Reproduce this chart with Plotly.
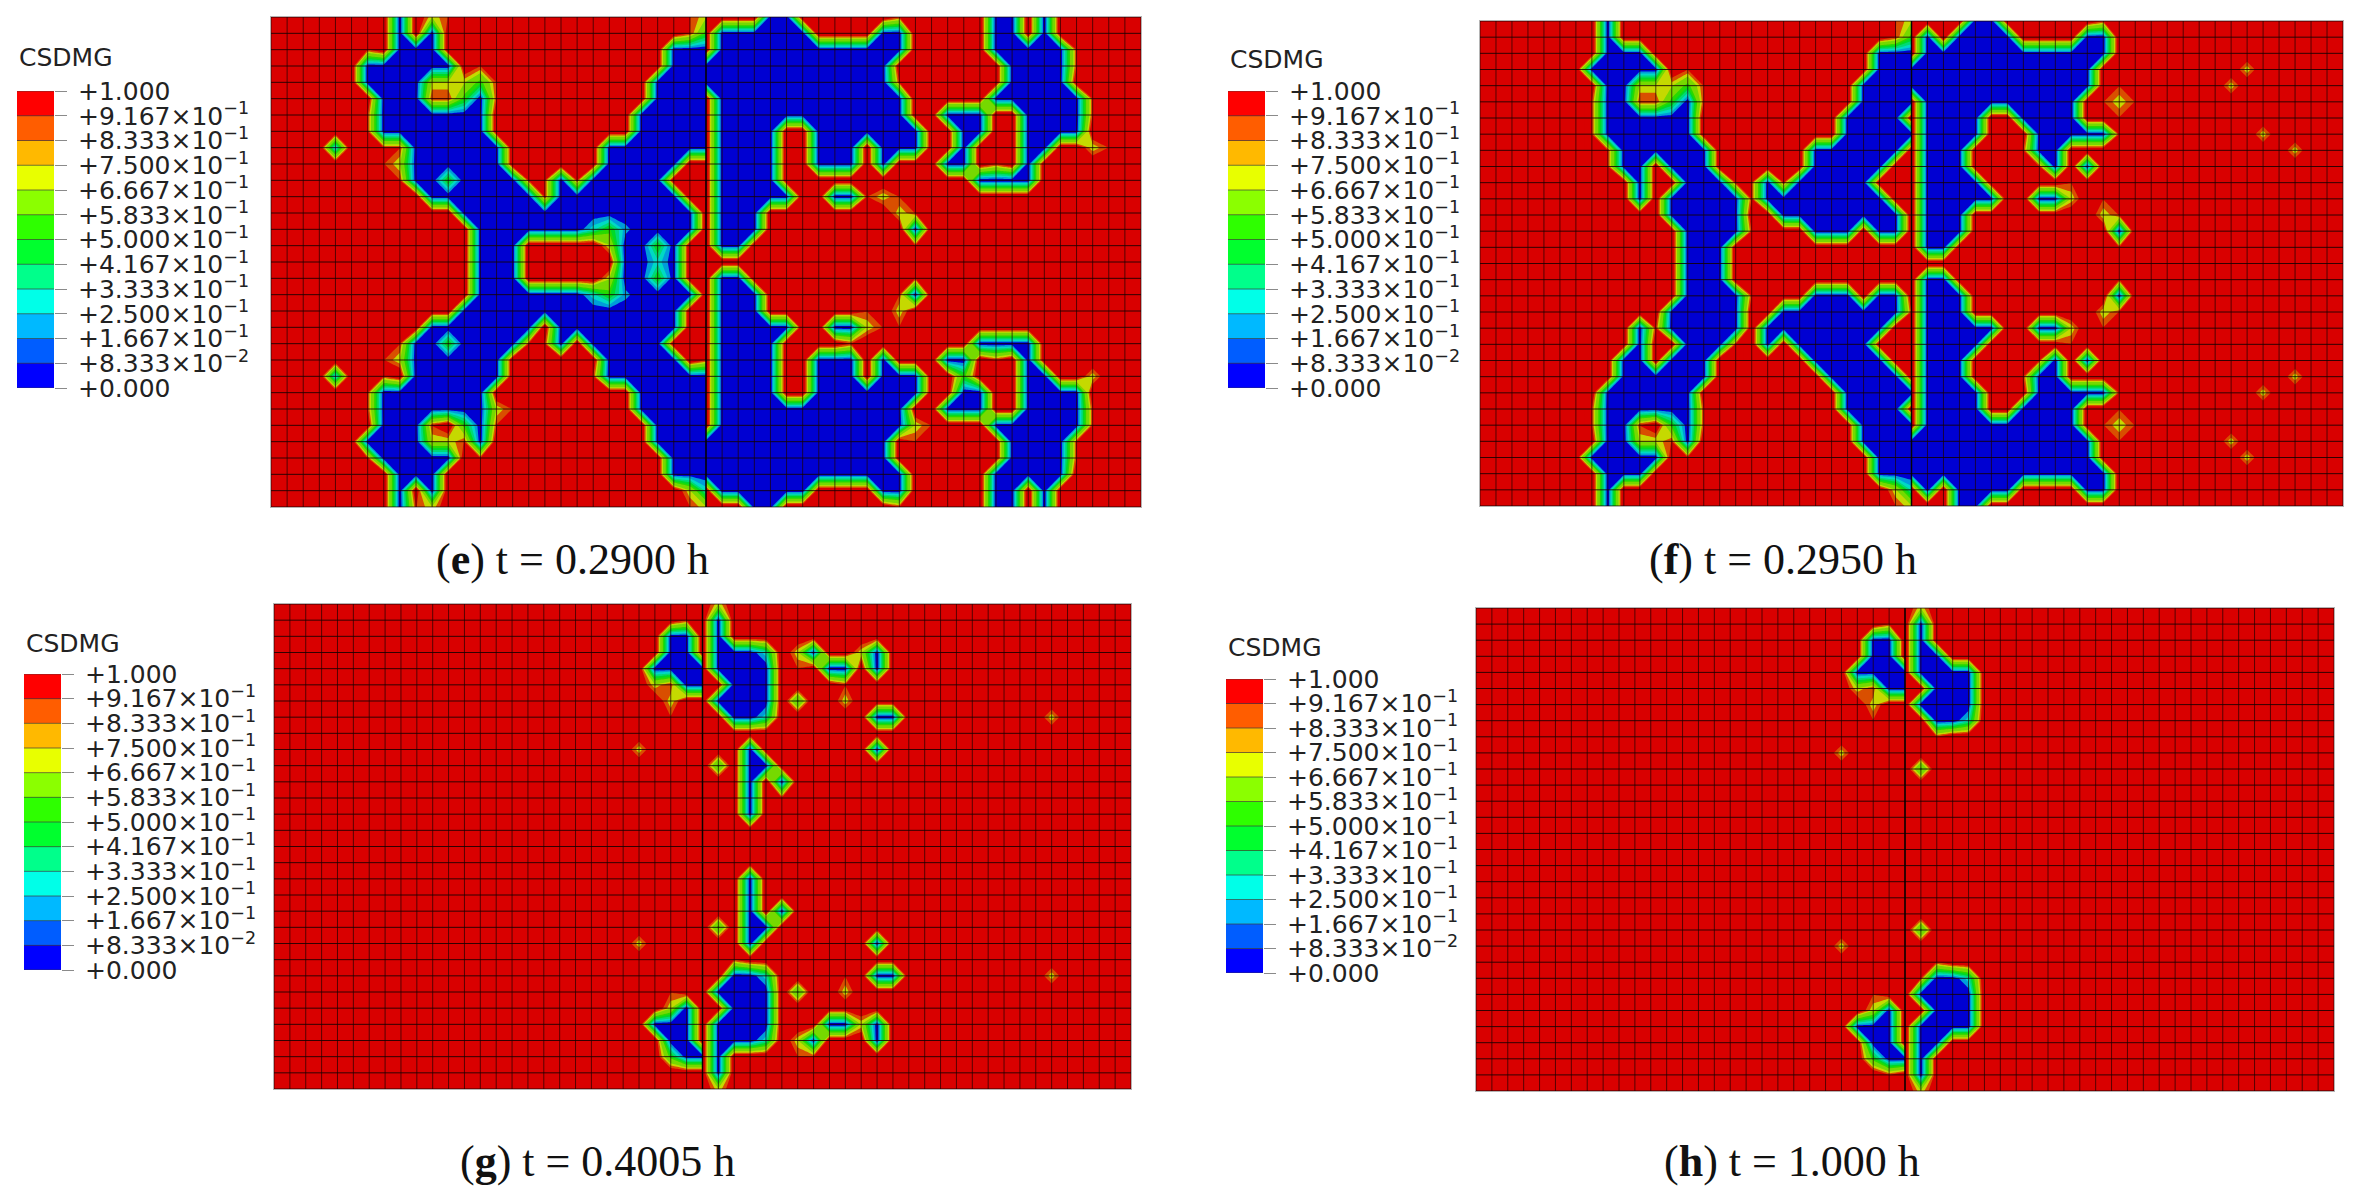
import plotly.graph_objects as go

WIDTH, HEIGHT = 2359, 1204

# Damage contour levels (12 equal bands between 0 and 1)
LEVEL_TICKS = [0, 1, 2, 3, 4, 5, 6, 7, 8, 9, 10, 11, 12]
LEVEL_LABELS = [
    "+0.000",
    "+8.333×10<sup>−2</sup>",
    "+1.667×10<sup>−1</sup>",
    "+2.500×10<sup>−1</sup>",
    "+3.333×10<sup>−1</sup>",
    "+4.167×10<sup>−1</sup>",
    "+5.000×10<sup>−1</sup>",
    "+5.833×10<sup>−1</sup>",
    "+6.667×10<sup>−1</sup>",
    "+7.500×10<sup>−1</sup>",
    "+8.333×10<sup>−1</sup>",
    "+9.167×10<sup>−1</sup>",
    "+1.000",
]
KEY_COLORS = ["#0000ff", "#005dff", "#00b9ff", "#00ffe8", "#00ff8b", "#00ff2e",
              "#2eff00", "#8bff00", "#e8ff00", "#ffb900", "#ff5d00", "#ff0000"]
LIT_COLORS = ["#0000d2", "#004fd9", "#009dd9", "#00d9c5", "#00d976", "#00d927",
              "#27d900", "#76d900", "#c5d900", "#d99d00", "#d94f00", "#d90000"]

# Nodal stiffness-degradation codes
NODE_VALUES = {".": 1.0, "#": 0.0, "o": 0.84, "y": 0.68, "g": 0.44, "c": 0.22, "b": 0.12}

# Nodes left of the notch line (columns 0-27), one string per mesh row
E_LEFT = [
    "........#.yo..............oy",
    "........#.#...............og",
    "......o.###..............###",
    "......######.o...........###",
    "......####yyygo.........####",
    ".....o.###oog#o.........####",
    ".....oo#######.o.......#####",
    "......o#######.........#####",
    "....b..oo######....o.#######",
    ".......oy######.o..o.#####..",
    "........o##g####oo#o#####..o",
    "..........#######o########.o",
    "............###############.",
    ".............#######cgb####.",
    ".............###.....y##g#..",
    ".............###......##c#..",
    ".............###.....y##g#..",
    ".............#######cgb####.",
    "............##############.o",
    "..........#######.########..",
    "........o##g####oo#.#####...",
    ".......oy######.o..o.#####.o",
    "....b..o.######....oo#######",
    ".....oo#######.........#####",
    ".....oo#######yo.......#####",
    ".......###o.g#o.........####",
    "......####yyo#..........####",
    "......o#####.o...........###",
    "........###..............###",
    "........#.#...............yc",
    "........#oy...............oy",
]
# Nodes right of the notch line (columns 27-54)
E_RIGHT = [
    "....##.o....o.....##.#.o....",
    ".######....##.....##.#.o....",
    ".############.....#####o....",
    "############.......####o....",
    "############o......####.o...",
    ".############.o...######o...",
    ".############..###..####o...",
    ".####..#######..##..####....",
    ".####..###.###..#...##..yo..",
    ".####..###.#...##.o.#.......",
    ".####.....o......####.......",
    ".#####..##oyo...............",
    ".###........yo..............",
    ".###.........#..............",
    ".##..........o..............",
    "............................",
    ".##..........o..............",
    ".###........o#..............",
    ".###......o.y...............",
    ".#####..##yoo...............",
    ".####....o.......####.......",
    ".####..###.#...##.o.#.......",
    ".####..###.###..g...##..y...",
    ".####..#######..##..####....",
    ".############..###..####o...",
    ".############yo...######o...",
    "############.o.....####o....",
    "############.......####o....",
    "#############.....#####.....",
    ".######....##.....##.#.o....",
    "...##.......oo....##.#.o....",
]

F_LEFT = [
    "........#.................oy",
    "........#.................og",
    "........###..............###",
    ".......#####.o...........###",
    "........##yyygo.........####",
    ".......o##oog#o.........####",
    ".......o######.o.......####.",
    ".......o######.........#####",
    ".......oo######....o.######.",
    "........o##.###.o..o.#####..",
    "..........#..###oo#o#####...",
    "..........#.#####o########..",
    "............#####..########.",
    ".............####o...###.##.",
    ".............###............",
    ".............###............",
    ".............###............",
    ".............####o...###.##.",
    "............#####..########o",
    "..........#o#####.########..",
    "..........#..###o.#.#####...",
    ".........##.###.o..o.#####..",
    ".......o.######....o..#####.",
    "........######.........#####",
    ".......o######oo.......####.",
    ".......o##o.g#o.........####",
    "........##yyo#..........####",
    ".......#####.o...........###",
    "........###..............###",
    "........#.................yc",
    "........#.................oy",
]
F_RIGHT = [
    "....##......o",
    ".#.####....##",
    ".############",
    "############.........y......",
    "############.o......y.o.....",
    ".##########.oyo",
    ".####..####..o",
    ".####...#####o........y.....",
    ".###...o##..............y...",
    ".###....o#.#",
    ".####.....o",
    ".#####..##y.o",
    ".###........yo",
    ".###.........#",
    ".##..........o",
    "",
    ".##..........o",
    ".###.........#",
    ".###........yo",
    ".#####..##y.o",
    ".####.....o",
    ".###....o#.#",
    ".###...o##..............y...",
    ".####...#####o........y.....",
    ".####..####..o",
    ".##########.oyo",
    "############.o......y.o.....",
    "############.........y......",
    "#############",
    ".#.####....##",
    "...##",
]

G_LEFT = [
    "",
    "..........................o.",
    ".........................##.",
    ".........................##.",
    "........................####",
    ".......o................yo##",
    ".........................y..",
    ".........................o..",
    ".......o",
    ".......................y",
    "........................o",
    "", "", "", "", "", "", "", "", "",
    "........................o",
    ".......................y",
    ".......o",
    "",
    ".......o.................o..",
    ".........................y#.",
    "........................###.",
    ".........................##.",
    ".........................g##",
    "", "",
]
G_RIGHT = [
    ".y",
    ".#",
    ".#",
    ".###c.y#..y#",
    ".####.o.##.#..........o",
    "..###....o",
    ".####.g..y",
    "..##c......##.........y",
    ".o",
    "...#.......#",
    ".g.##",
    "...#.#",
    "...#.o",
    "...#",
    "", "", "",
    "...#",
    "...#",
    "...#.#",
    ".g.##",
    "...#.......#",
    "..o",
    "..##c....o.##.........y",
    ".####.g..y",
    "..###",
    ".####...##y#..........o",
    ".###c.y#...#",
    ".#....oo",
    ".#",
    ".y",
]

H_LEFT = [
    "",
    "..........................o.",
    ".........................##.",
    ".........................##.",
    "........................####",
    "........................yo##",
    ".........................y..",
    ".........................o..",
    "",
    ".......................y",
    "........................o",
    "", "", "", "", "", "", "", "", "",
    "........................o",
    ".......................y",
    "", "",
    ".........................o..",
    ".........................y#.",
    "........................###.",
    ".........................##.",
    ".........................g##",
    "..........................o.",
    "",
]
H_RIGHT = [
    ".y",
    ".#",
    ".#",
    ".##",
    ".####",
    "..###",
    ".####",
    "..##c",
    ".oo",
    "",
    ".g",
    "", "", "", "", "", "", "", "", "",
    ".g",
    "",
    "..o",
    ".o##c",
    ".####",
    "..###",
    ".####",
    ".##",
    ".#",
    ".#",
    ".y",
]

CAPTIONS = [("e", "t = 0.2900 h"), ("f", "t = 0.2950 h"),
            ("g", "t = 0.4005 h"), ("h", "t = 1.000 h")]

COLUMNS, ROWS = 54, 30
CRACK = 27


def decode(rows):
    return [[NODE_VALUES[c] for c in r.ljust(CRACK + 1, ".")[:CRACK + 1]] for r in rows]


def band_scale():
    """Stepped colour scale that gives each contour band one flat colour."""
    stops = [[0, LIT_COLORS[0]], [0.02, LIT_COLORS[0]], [0.02, LIT_COLORS[1]]]
    for k in range(1, 11):
        stops += [[k / 11, LIT_COLORS[k]], [k / 11, LIT_COLORS[k + 1]]]
    stops += [[1, LIT_COLORS[11]]]
    return stops


def key_scale():
    n = len(KEY_COLORS)
    stops = []
    for k, c in enumerate(KEY_COLORS):
        stops += [[k / n, c], [(k + 1) / n, c]]
    return stops


PANELS = [
    dict(left=E_LEFT, right=E_RIGHT, box=(271, 1141, 17, 507), key=(17, 54, 91, 388), title=(17, 57), cap=(434, 560)),
    dict(left=F_LEFT, right=F_RIGHT, box=(1480, 2343, 21, 506), key=(1228, 1265, 91, 388), title=(1228, 60), cap=(1647, 560)),
    dict(left=G_LEFT, right=G_RIGHT, box=(274, 1131, 604, 1089), key=(24, 61, 674, 970), title=(24, 644), cap=(458, 1161)),
    dict(left=H_LEFT, right=H_RIGHT, box=(1476, 2334, 608, 1091), key=(1226, 1263, 679, 973), title=(1226, 647), cap=(1662, 1161)),
]

fig = go.Figure()
layout = dict(
    width=WIDTH, height=HEIGHT, autosize=False, showlegend=False,
    margin=dict(l=0, r=0, t=0, b=0, autoexpand=False), paper_bgcolor="white", plot_bgcolor="white",
    annotations=[],
)


def px_x(v):
    return v / WIDTH


def px_y(v):
    return 1 - v / HEIGHT


axis_id = 1
for panel, (letter, when) in zip(PANELS, CAPTIONS):
    # Contour field, split along the notch so nodal values can jump across it
    x0, x1, y0, y1 = panel["box"]
    xa, ya = f"x{axis_id}", f"y{axis_id}"
    layout[f"xaxis{axis_id}"] = dict(
        domain=[px_x(x0), px_x(x1)], range=[0, COLUMNS], anchor=ya, showgrid=False,
        zeroline=False, showticklabels=False, ticks="", showline=True, mirror=True,
        linecolor="#b4b4b4", linewidth=1)
    layout[f"yaxis{axis_id}"] = dict(
        domain=[px_y(y1), px_y(y0)], range=[ROWS, 0], anchor=xa, showgrid=False,
        zeroline=False, showticklabels=False, ticks="", showline=True, mirror=True,
        linecolor="#b4b4b4", linewidth=1)
    for rows, columns in ((panel["left"], list(range(0, CRACK + 1))),
                          (panel["right"], list(range(CRACK, COLUMNS + 1)))):
        fig.add_trace(go.Contour(
            x=columns, y=list(range(ROWS + 1)), z=decode(rows), xaxis=xa, yaxis=ya,
            autocontour=False, contours=dict(start=1 / 12, end=11 / 12 + 1e-6, size=1 / 12,
                                             coloring="fill", showlines=False),
            line=dict(width=0, smoothing=0), colorscale=band_scale(), zmin=0, zmax=1,
            showscale=False, hoverinfo="skip"))

    # Element edges
    hx, hy = [], []
    for j in range(ROWS + 1):
        hx += [0, COLUMNS, None]
        hy += [j, j, None]
    vx, vy = [], []
    for i in range(COLUMNS + 1):
        vx += [i, i, None]
        vy += [0, ROWS, None]
    fig.add_trace(go.Scatter(x=vx, y=vy, xaxis=xa, yaxis=ya, mode="lines", hoverinfo="skip",
                             line=dict(color="rgba(30,0,0,0.7)", width=1)))
    fig.add_trace(go.Scatter(x=hx, y=hy, xaxis=xa, yaxis=ya, mode="lines", hoverinfo="skip",
                             line=dict(color="rgba(20,0,0,0.85)", width=1)))
    fig.add_trace(go.Scatter(x=[CRACK, CRACK], y=[0, ROWS], xaxis=xa, yaxis=ya, mode="lines",
                             hoverinfo="skip", line=dict(color="rgba(0,0,0,0.9)", width=1.5)))
    axis_id += 1

    # Band key beside the field
    kx0, kx1, ky0, ky1 = panel["key"]
    xa, ya = f"x{axis_id}", f"y{axis_id}"
    layout[f"xaxis{axis_id}"] = dict(
        domain=[px_x(kx0), px_x(kx1)], range=[0, 1], anchor=ya, showgrid=False,
        zeroline=False, showticklabels=False, ticks="", showline=False)
    layout[f"yaxis{axis_id}"] = dict(
        domain=[px_y(ky1), px_y(ky0)], range=[0, 12], anchor=xa, side="right", showgrid=False,
        zeroline=False, tickmode="array", tickvals=LEVEL_TICKS, ticktext=LEVEL_LABELS,
        ticks="outside", ticklen=12, tickcolor="#8a8a8a", tickwidth=1, showline=False,
        ticklabelstandoff=6,
        tickfont=dict(family="DejaVu Sans", size=25, color="#222222"))
    fig.add_trace(go.Heatmap(
        x=[0.5], y=[k + 0.5 for k in range(12)], z=[[k] for k in range(12)], xaxis=xa, yaxis=ya,
        colorscale=key_scale(), zmin=0, zmax=12, showscale=False, hoverinfo="skip"))
    sx, sy = [], []
    for k in LEVEL_TICKS:
        sx += [0, 1, None]
        sy += [k, k, None]
    fig.add_trace(go.Scatter(x=sx, y=sy, xaxis=xa, yaxis=ya, mode="lines", hoverinfo="skip",
                             line=dict(color="rgba(60,60,60,0.7)", width=1)))
    axis_id += 1

    tx, ty = panel["title"]
    layout["annotations"].append(dict(
        x=px_x(tx), y=px_y(ty), xref="paper", yref="paper", xanchor="left", yanchor="middle",
        text="CSDMG", showarrow=False, font=dict(family="DejaVu Sans", size=25, color="#222222")))
    cx, cy = panel["cap"]
    layout["annotations"].append(dict(
        x=px_x(cx), y=px_y(cy), xref="paper", yref="paper", xanchor="left", yanchor="middle",
        text=f"(<b>{letter}</b>) {when}", showarrow=False,
        font=dict(family="Liberation Serif", size=44, color="#111111")))

fig.update_layout(**layout)
fig.write_html("out.html")
